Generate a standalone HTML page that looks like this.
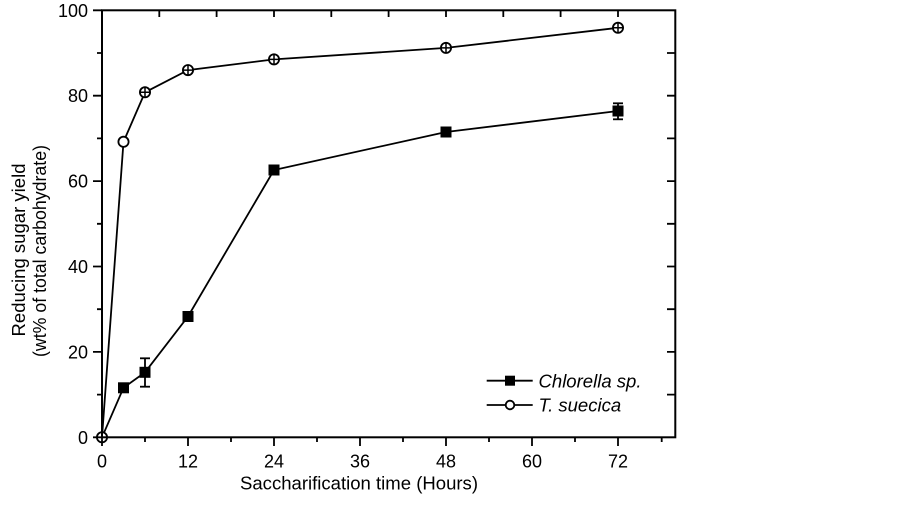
<!DOCTYPE html>
<html>
<head>
<meta charset="utf-8">
<style>
html,body{margin:0;padding:0;background:#fff;}
svg{display:block;}
text{font-family:"Liberation Sans",Arial,sans-serif;fill:#000;}
</style>
</head>
<body>
<svg width="903" height="505" viewBox="0 0 903 505" xmlns="http://www.w3.org/2000/svg">
<rect width="903" height="505" fill="#fff"/>

<!-- series lines -->
<polyline fill="none" stroke="#000" stroke-width="1.8" points="102,437.3 123.5,141.8 145,92.3 188,70.1 274,59.4 446,47.9 618,27.8"/>
<polyline fill="none" stroke="#000" stroke-width="1.8" points="102,437.3 123.5,387.8 145,372.3 188,316.5 274,170 446,132 618,111"/>

<!-- error bars Chlorella -->
<g stroke="#000" stroke-width="1.8">
<line x1="145" y1="358.3" x2="145" y2="386.7"/>
<line x1="140" y1="358.3" x2="150" y2="358.3"/>
<line x1="140" y1="386.7" x2="150" y2="386.7"/>
<line x1="618" y1="103.3" x2="618" y2="119.3"/>
<line x1="613" y1="103.3" x2="623" y2="103.3"/>
<line x1="613" y1="119.3" x2="623" y2="119.3"/>
</g>

<!-- Chlorella markers -->
<g fill="#000">
<rect x="118" y="382.3" width="11" height="11"/>
<rect x="139.5" y="366.8" width="11" height="11"/>
<rect x="182.5" y="311" width="11" height="11"/>
<rect x="268.5" y="164.5" width="11" height="11"/>
<rect x="440.5" y="126.5" width="11" height="11"/>
<rect x="612.5" y="105.5" width="11" height="11"/>
</g>

<!-- T. suecica markers -->
<g fill="#fff" stroke="#000" stroke-width="1.8">
<circle cx="102" cy="437.3" r="5.1"/>
<circle cx="123.5" cy="141.8" r="5.1"/>
<circle cx="145" cy="92.3" r="5.1"/>
<circle cx="188" cy="70.1" r="5.1"/>
<circle cx="274" cy="59.4" r="5.1"/>
<circle cx="446" cy="47.9" r="5.1"/>
<circle cx="618" cy="27.8" r="5.1"/>
</g>
<g stroke="#000" stroke-width="1.5">
<path d="M140,92.3H150M145,87.3V97.3"/>
<path d="M183,70.1H193M188,65.1V75.1"/>
<path d="M269,59.4H279M274,54.4V64.4"/>
<path d="M441,47.9H451M446,42.9V52.9"/>
<path d="M613,27.8H623M618,22.8V32.8"/>
</g>

<!-- axes frame -->
<rect x="102" y="10.3" width="573.3" height="427" fill="none" stroke="#000" stroke-width="2"/>

<!-- ticks -->
<g stroke="#000" stroke-width="1.8">
<path d="M93,437.3H102M93,351.9H102M93,266.5H102M93,181.1H102M93,95.7H102M93,10.3H102"/>
<path d="M97,394.6H102M97,309.2H102M97,223.8H102M97,138.4H102M97,53H102"/>
<path d="M667,394.6H675.3M667,351.9H675.3M667,309.2H675.3M667,266.5H675.3M667,223.8H675.3M667,181.1H675.3M667,138.4H675.3M667,95.7H675.3M667,53H675.3"/>
<path d="M102,437.3V446M188,437.3V446M274,437.3V446M360,437.3V446M446,437.3V446M532,437.3V446M618,437.3V446"/>
<path d="M145,437.3V442M231,437.3V442M317,437.3V442M403,437.3V442M489,437.3V442M575,437.3V442M661.7,437.3V442"/>
<path d="M159.3,10.3V17M216.6,10.3V17M274,10.3V17M331.3,10.3V17M388.6,10.3V17M446,10.3V17M503.3,10.3V17M560.6,10.3V17M618,10.3V17"/>
</g>

<!-- y tick labels -->
<g font-size="18" text-anchor="end">
<text x="88" y="443.8">0</text>
<text x="88" y="358.4">20</text>
<text x="88" y="273">40</text>
<text x="88" y="187.6">60</text>
<text x="88" y="102.2">80</text>
<text x="88" y="16.8">100</text>
</g>

<!-- x tick labels -->
<g font-size="18" text-anchor="middle">
<text x="102" y="467.5">0</text>
<text x="188" y="467.5">12</text>
<text x="274" y="467.5">24</text>
<text x="360" y="467.5">36</text>
<text x="446" y="467.5">48</text>
<text x="532" y="467.5">60</text>
<text x="618" y="467.5">72</text>
</g>

<!-- axis titles -->
<text x="359" y="489.5" font-size="18.5" text-anchor="middle" textLength="238" lengthAdjust="spacingAndGlyphs">Saccharification time (Hours)</text>
<text transform="translate(25,250) rotate(-90)" font-size="18.5" text-anchor="middle" textLength="173" lengthAdjust="spacingAndGlyphs">Reducing sugar yield</text>
<text transform="translate(46,251) rotate(-90)" font-size="18" text-anchor="middle" textLength="212" lengthAdjust="spacingAndGlyphs">(wt% of total carbohydrate)</text>

<!-- legend -->
<g stroke="#000" stroke-width="1.8">
<line x1="486.7" y1="380.7" x2="532.7" y2="380.7"/>
<line x1="486.7" y1="405" x2="532.7" y2="405"/>
</g>
<rect x="505" y="375.7" width="10" height="10" fill="#000"/>
<circle cx="510" cy="405" r="4.3" fill="#fff" stroke="#000" stroke-width="1.8"/>
<g font-size="18.5" font-style="italic">
<text x="538.5" y="387.3" textLength="103" lengthAdjust="spacingAndGlyphs">Chlorella sp.</text>
<text x="538.5" y="411.6">T. suecica</text>
</g>
</svg>
</body>
</html>
